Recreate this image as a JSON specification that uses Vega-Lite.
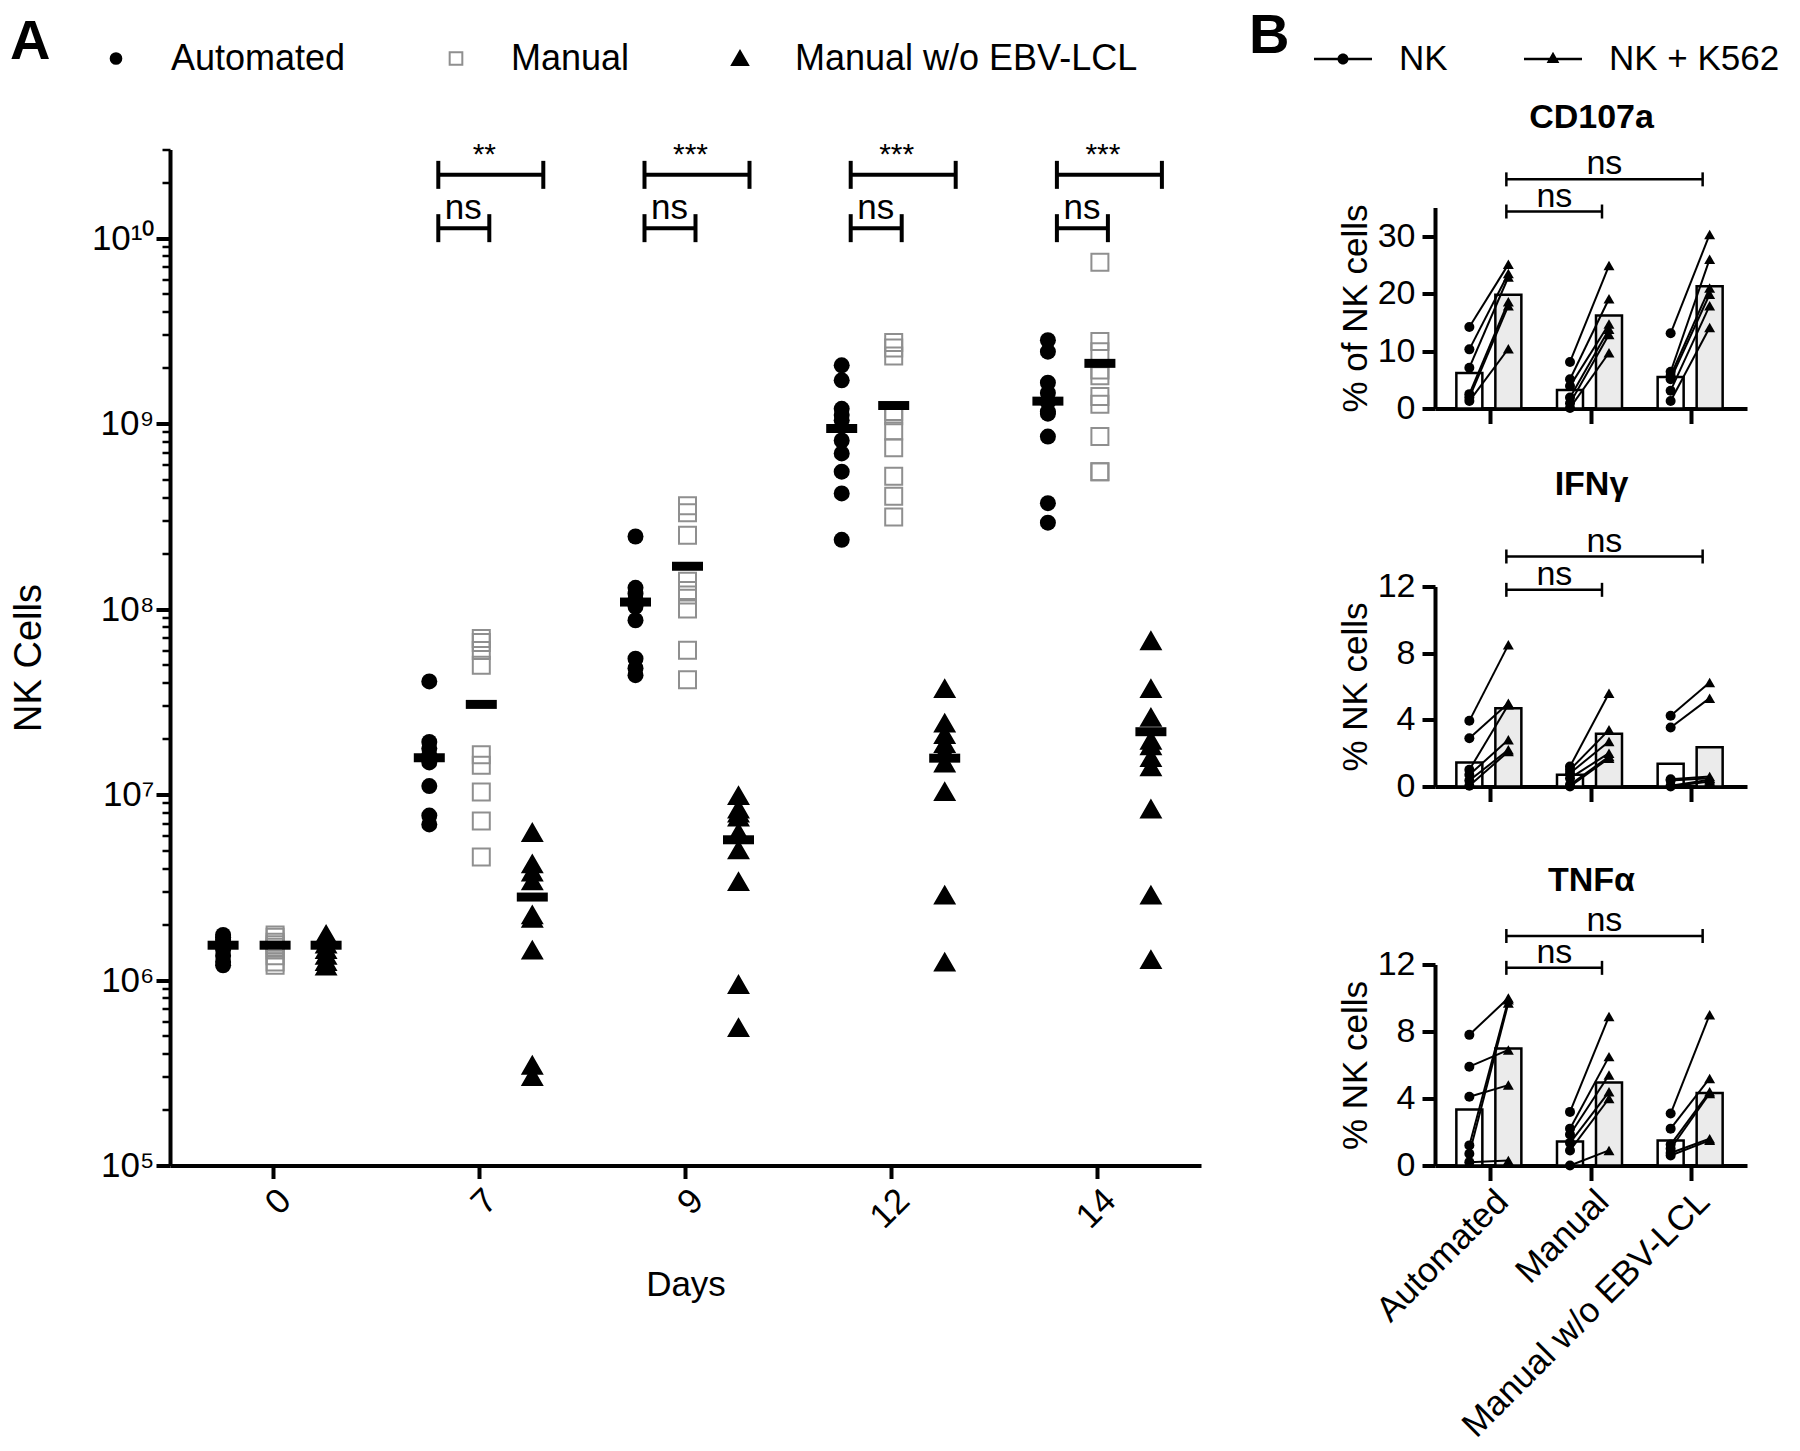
{
"$schema": "https://vega.github.io/schema/vega-lite/v6.json",
"background": "white",
"padding": {"left": 10, "top": 28.5, "right": 2, "bottom": 2},
"config": {
  "font": "Liberation Sans",
  "view": {"stroke": null},
  "axis": {"grid": false, "labelFont": "Liberation Sans", "titleFont": "Liberation Sans", "labelColor": "black", "titleColor": "black", "domainColor": "black", "tickColor": "black", "titleFontWeight": "normal"},
  "legend": {"labelFont": "Liberation Sans", "titleFont": "Liberation Sans", "labelColor": "black", "titleColor": "black"},
  "title": {"font": "Liberation Sans", "color": "black"},
  "text": {"font": "Liberation Sans", "color": "black"}
},
"datasets": {
  "cellsA": [
    {"Day":"0","Method":"Automated","Cells":1.75e6},{"Day":"0","Method":"Automated","Cells":1.7e6},{"Day":"0","Method":"Automated","Cells":1.65e6},{"Day":"0","Method":"Automated","Cells":1.6e6},{"Day":"0","Method":"Automated","Cells":1.55e6},{"Day":"0","Method":"Automated","Cells":1.5e6},{"Day":"0","Method":"Automated","Cells":1.45e6},{"Day":"0","Method":"Automated","Cells":1.35e6},{"Day":"0","Method":"Automated","Cells":1.25e6},{"Day":"0","Method":"Automated","Cells":1.2e6},
    {"Day":"0","Method":"Manual","Cells":1.75e6},{"Day":"0","Method":"Manual","Cells":1.7e6},{"Day":"0","Method":"Manual","Cells":1.6e6},{"Day":"0","Method":"Manual","Cells":1.55e6},{"Day":"0","Method":"Manual","Cells":1.5e6},{"Day":"0","Method":"Manual","Cells":1.45e6},{"Day":"0","Method":"Manual","Cells":1.35e6},{"Day":"0","Method":"Manual","Cells":1.25e6},{"Day":"0","Method":"Manual","Cells":1.2e6},
    {"Day":"0","Method":"Manual w/o EBV-LCL","Cells":1.75e6},{"Day":"0","Method":"Manual w/o EBV-LCL","Cells":1.65e6},{"Day":"0","Method":"Manual w/o EBV-LCL","Cells":1.55e6},{"Day":"0","Method":"Manual w/o EBV-LCL","Cells":1.45e6},{"Day":"0","Method":"Manual w/o EBV-LCL","Cells":1.35e6},{"Day":"0","Method":"Manual w/o EBV-LCL","Cells":1.25e6},{"Day":"0","Method":"Manual w/o EBV-LCL","Cells":1.18e6},
    {"Day":"7","Method":"Automated","Cells":4.07e7},{"Day":"7","Method":"Automated","Cells":1.92e7},{"Day":"7","Method":"Automated","Cells":1.77e7},{"Day":"7","Method":"Automated","Cells":1.62e7},{"Day":"7","Method":"Automated","Cells":1.49e7},{"Day":"7","Method":"Automated","Cells":1.11e7},{"Day":"7","Method":"Automated","Cells":7.7e6},{"Day":"7","Method":"Automated","Cells":6.9e6},
    {"Day":"7","Method":"Manual","Cells":6.94e7},{"Day":"7","Method":"Manual","Cells":6.6e7},{"Day":"7","Method":"Manual","Cells":5.98e7},{"Day":"7","Method":"Manual","Cells":4.97e7},{"Day":"7","Method":"Manual","Cells":1.64e7},{"Day":"7","Method":"Manual","Cells":1.44e7},{"Day":"7","Method":"Manual","Cells":1.03e7},{"Day":"7","Method":"Manual","Cells":7.2e6},{"Day":"7","Method":"Manual","Cells":4.6e6},
    {"Day":"7","Method":"Manual w/o EBV-LCL","Cells":6.2e6},{"Day":"7","Method":"Manual w/o EBV-LCL","Cells":4.2e6},{"Day":"7","Method":"Manual w/o EBV-LCL","Cells":3.8e6},{"Day":"7","Method":"Manual w/o EBV-LCL","Cells":3.4e6},{"Day":"7","Method":"Manual w/o EBV-LCL","Cells":2.23e6},{"Day":"7","Method":"Manual w/o EBV-LCL","Cells":2.14e6},{"Day":"7","Method":"Manual w/o EBV-LCL","Cells":1.44e6},{"Day":"7","Method":"Manual w/o EBV-LCL","Cells":3.45e5},{"Day":"7","Method":"Manual w/o EBV-LCL","Cells":3.0e5},
    {"Day":"9","Method":"Automated","Cells":2.46e8},{"Day":"9","Method":"Automated","Cells":1.3e8},{"Day":"9","Method":"Automated","Cells":1.21e8},{"Day":"9","Method":"Automated","Cells":1.12e8},{"Day":"9","Method":"Automated","Cells":1.03e8},{"Day":"9","Method":"Automated","Cells":8.7e7},{"Day":"9","Method":"Automated","Cells":5.4e7},{"Day":"9","Method":"Automated","Cells":4.8e7},{"Day":"9","Method":"Automated","Cells":4.4e7},
    {"Day":"9","Method":"Manual","Cells":3.6e8},{"Day":"9","Method":"Manual","Cells":3.3e8},{"Day":"9","Method":"Manual","Cells":2.5e8},{"Day":"9","Method":"Manual","Cells":1.41e8},{"Day":"9","Method":"Manual","Cells":1.26e8},{"Day":"9","Method":"Manual","Cells":1.19e8},{"Day":"9","Method":"Manual","Cells":1.0e8},{"Day":"9","Method":"Manual","Cells":6.0e7},{"Day":"9","Method":"Manual","Cells":4.15e7},
    {"Day":"9","Method":"Manual w/o EBV-LCL","Cells":9.8e6},{"Day":"9","Method":"Manual w/o EBV-LCL","Cells":8.3e6},{"Day":"9","Method":"Manual w/o EBV-LCL","Cells":7.9e6},{"Day":"9","Method":"Manual w/o EBV-LCL","Cells":7.5e6},{"Day":"9","Method":"Manual w/o EBV-LCL","Cells":6.2e6},{"Day":"9","Method":"Manual w/o EBV-LCL","Cells":5.0e6},{"Day":"9","Method":"Manual w/o EBV-LCL","Cells":3.37e6},{"Day":"9","Method":"Manual w/o EBV-LCL","Cells":9.4e5},{"Day":"9","Method":"Manual w/o EBV-LCL","Cells":5.5e5},
    {"Day":"12","Method":"Automated","Cells":2.06e9},{"Day":"12","Method":"Automated","Cells":1.71e9},{"Day":"12","Method":"Automated","Cells":1.2e9},{"Day":"12","Method":"Automated","Cells":1.11e9},{"Day":"12","Method":"Automated","Cells":1.04e9},{"Day":"12","Method":"Automated","Cells":8.1e8},{"Day":"12","Method":"Automated","Cells":6.9e8},{"Day":"12","Method":"Automated","Cells":5.5e8},{"Day":"12","Method":"Automated","Cells":4.2e8},{"Day":"12","Method":"Automated","Cells":2.36e8},
    {"Day":"12","Method":"Manual","Cells":2.73e9},{"Day":"12","Method":"Manual","Cells":2.55e9},{"Day":"12","Method":"Manual","Cells":2.31e9},{"Day":"12","Method":"Manual","Cells":1.16e9},{"Day":"12","Method":"Manual","Cells":1.1e9},{"Day":"12","Method":"Manual","Cells":9.1e8},{"Day":"12","Method":"Manual","Cells":7.4e8},{"Day":"12","Method":"Manual","Cells":5.2e8},{"Day":"12","Method":"Manual","Cells":4.05e8},{"Day":"12","Method":"Manual","Cells":3.13e8},
    {"Day":"12","Method":"Manual w/o EBV-LCL","Cells":3.7e7},{"Day":"12","Method":"Manual w/o EBV-LCL","Cells":2.41e7},{"Day":"12","Method":"Manual w/o EBV-LCL","Cells":2.09e7},{"Day":"12","Method":"Manual w/o EBV-LCL","Cells":1.87e7},{"Day":"12","Method":"Manual w/o EBV-LCL","Cells":1.69e7},{"Day":"12","Method":"Manual w/o EBV-LCL","Cells":1.47e7},{"Day":"12","Method":"Manual w/o EBV-LCL","Cells":1.03e7},{"Day":"12","Method":"Manual w/o EBV-LCL","Cells":2.85e6},{"Day":"12","Method":"Manual w/o EBV-LCL","Cells":1.24e6},
    {"Day":"14","Method":"Automated","Cells":2.81e9},{"Day":"14","Method":"Automated","Cells":2.44e9},{"Day":"14","Method":"Automated","Cells":1.66e9},{"Day":"14","Method":"Automated","Cells":1.46e9},{"Day":"14","Method":"Automated","Cells":1.3e9},{"Day":"14","Method":"Automated","Cells":1.16e9},{"Day":"14","Method":"Automated","Cells":1.13e9},{"Day":"14","Method":"Automated","Cells":8.5e8},{"Day":"14","Method":"Automated","Cells":3.72e8},{"Day":"14","Method":"Automated","Cells":2.92e8},
    {"Day":"14","Method":"Manual","Cells":7.4e9},{"Day":"14","Method":"Manual","Cells":2.77e9},{"Day":"14","Method":"Manual","Cells":2.44e9},{"Day":"14","Method":"Manual","Cells":1.94e9},{"Day":"14","Method":"Manual","Cells":1.81e9},{"Day":"14","Method":"Manual","Cells":1.4e9},{"Day":"14","Method":"Manual","Cells":1.27e9},{"Day":"14","Method":"Manual","Cells":8.5e8},{"Day":"14","Method":"Manual","Cells":5.5e8},{"Day":"14","Method":"Manual","Cells":5.5e8},
    {"Day":"14","Method":"Manual w/o EBV-LCL","Cells":6.7e7},{"Day":"14","Method":"Manual w/o EBV-LCL","Cells":3.7e7},{"Day":"14","Method":"Manual w/o EBV-LCL","Cells":2.59e7},{"Day":"14","Method":"Manual w/o EBV-LCL","Cells":1.95e7},{"Day":"14","Method":"Manual w/o EBV-LCL","Cells":1.82e7},{"Day":"14","Method":"Manual w/o EBV-LCL","Cells":1.57e7},{"Day":"14","Method":"Manual w/o EBV-LCL","Cells":1.4e7},{"Day":"14","Method":"Manual w/o EBV-LCL","Cells":8.3e6},{"Day":"14","Method":"Manual w/o EBV-LCL","Cells":2.85e6},{"Day":"14","Method":"Manual w/o EBV-LCL","Cells":1.28e6}
  ],
  "meansA": [
    {"Day":"0","Method":"Automated","Mean":1.54e6},{"Day":"0","Method":"Manual","Mean":1.54e6},{"Day":"0","Method":"Manual w/o EBV-LCL","Mean":1.54e6},
    {"Day":"7","Method":"Automated","Mean":1.58e7},{"Day":"7","Method":"Manual","Mean":3.06e7},{"Day":"7","Method":"Manual w/o EBV-LCL","Mean":2.8e6},
    {"Day":"9","Method":"Automated","Mean":1.09e8},{"Day":"9","Method":"Manual","Mean":1.7e8},{"Day":"9","Method":"Manual w/o EBV-LCL","Mean":5.7e6},
    {"Day":"12","Method":"Automated","Mean":9.4e8},{"Day":"12","Method":"Manual","Mean":1.25e9},{"Day":"12","Method":"Manual w/o EBV-LCL","Mean":1.57e7},
    {"Day":"14","Method":"Automated","Mean":1.32e9},{"Day":"14","Method":"Manual","Mean":2.11e9},{"Day":"14","Method":"Manual w/o EBV-LCL","Mean":2.18e7}
  ],
  "bracketsA": [
    {"Day":"7","kind":"upper","level":2.19e10,"label":"**"},{"Day":"7","kind":"lower","level":1.13e10,"label":"ns"},
    {"Day":"9","kind":"upper","level":2.19e10,"label":"***"},{"Day":"9","kind":"lower","level":1.13e10,"label":"ns"},
    {"Day":"12","kind":"upper","level":2.19e10,"label":"***"},{"Day":"12","kind":"lower","level":1.13e10,"label":"ns"},
    {"Day":"14","kind":"upper","level":2.19e10,"label":"***"},{"Day":"14","kind":"lower","level":1.13e10,"label":"ns"}
  ],
  "pointsB": [
    {"panel":"CD107a","group":"Automated","donor":1,"cond":"NK","value":14.2},{"panel":"CD107a","group":"Automated","donor":2,"cond":"NK","value":10.3},{"panel":"CD107a","group":"Automated","donor":3,"cond":"NK","value":7.1},{"panel":"CD107a","group":"Automated","donor":4,"cond":"NK","value":2.5},{"panel":"CD107a","group":"Automated","donor":5,"cond":"NK","value":1.9},{"panel":"CD107a","group":"Automated","donor":6,"cond":"NK","value":1.3},
    {"panel":"CD107a","group":"Automated","donor":1,"cond":"NK + K562","value":25.1},{"panel":"CD107a","group":"Automated","donor":2,"cond":"NK + K562","value":23.5},{"panel":"CD107a","group":"Automated","donor":3,"cond":"NK + K562","value":22.9},{"panel":"CD107a","group":"Automated","donor":4,"cond":"NK + K562","value":18.6},{"panel":"CD107a","group":"Automated","donor":5,"cond":"NK + K562","value":17.9},{"panel":"CD107a","group":"Automated","donor":6,"cond":"NK + K562","value":10.4},
    {"panel":"CD107a","group":"Manual","donor":1,"cond":"NK","value":8.1},{"panel":"CD107a","group":"Manual","donor":2,"cond":"NK","value":5.1},{"panel":"CD107a","group":"Manual","donor":3,"cond":"NK","value":3.9},{"panel":"CD107a","group":"Manual","donor":4,"cond":"NK","value":1.9},{"panel":"CD107a","group":"Manual","donor":5,"cond":"NK","value":0.9},{"panel":"CD107a","group":"Manual","donor":6,"cond":"NK","value":0.1},
    {"panel":"CD107a","group":"Manual","donor":1,"cond":"NK + K562","value":24.9},{"panel":"CD107a","group":"Manual","donor":2,"cond":"NK + K562","value":19.1},{"panel":"CD107a","group":"Manual","donor":3,"cond":"NK + K562","value":14.7},{"panel":"CD107a","group":"Manual","donor":4,"cond":"NK + K562","value":13.8},{"panel":"CD107a","group":"Manual","donor":5,"cond":"NK + K562","value":12.9},{"panel":"CD107a","group":"Manual","donor":6,"cond":"NK + K562","value":9.7},
    {"panel":"CD107a","group":"Manual w/o EBV-LCL","donor":1,"cond":"NK","value":13.1},{"panel":"CD107a","group":"Manual w/o EBV-LCL","donor":2,"cond":"NK","value":6.4},{"panel":"CD107a","group":"Manual w/o EBV-LCL","donor":3,"cond":"NK","value":5.7},{"panel":"CD107a","group":"Manual w/o EBV-LCL","donor":4,"cond":"NK","value":5.1},{"panel":"CD107a","group":"Manual w/o EBV-LCL","donor":5,"cond":"NK","value":3.1},{"panel":"CD107a","group":"Manual w/o EBV-LCL","donor":6,"cond":"NK","value":1.3},
    {"panel":"CD107a","group":"Manual w/o EBV-LCL","donor":1,"cond":"NK + K562","value":30.3},{"panel":"CD107a","group":"Manual w/o EBV-LCL","donor":2,"cond":"NK + K562","value":26.0},{"panel":"CD107a","group":"Manual w/o EBV-LCL","donor":3,"cond":"NK + K562","value":21.0},{"panel":"CD107a","group":"Manual w/o EBV-LCL","donor":4,"cond":"NK + K562","value":19.9},{"panel":"CD107a","group":"Manual w/o EBV-LCL","donor":5,"cond":"NK + K562","value":17.9},{"panel":"CD107a","group":"Manual w/o EBV-LCL","donor":6,"cond":"NK + K562","value":14.1},
    {"panel":"IFNγ","group":"Automated","donor":1,"cond":"NK","value":3.94},{"panel":"IFNγ","group":"Automated","donor":2,"cond":"NK","value":2.9},{"panel":"IFNγ","group":"Automated","donor":3,"cond":"NK","value":1.0},{"panel":"IFNγ","group":"Automated","donor":4,"cond":"NK","value":0.7},{"panel":"IFNγ","group":"Automated","donor":5,"cond":"NK","value":0.36},{"panel":"IFNγ","group":"Automated","donor":6,"cond":"NK","value":0.04},
    {"panel":"IFNγ","group":"Automated","donor":1,"cond":"NK + K562","value":8.5},{"panel":"IFNγ","group":"Automated","donor":2,"cond":"NK + K562","value":5.0},{"panel":"IFNγ","group":"Automated","donor":3,"cond":"NK + K562","value":4.9},{"panel":"IFNγ","group":"Automated","donor":4,"cond":"NK + K562","value":2.8},{"panel":"IFNγ","group":"Automated","donor":5,"cond":"NK + K562","value":2.2},{"panel":"IFNγ","group":"Automated","donor":6,"cond":"NK + K562","value":2.1},
    {"panel":"IFNγ","group":"Manual","donor":1,"cond":"NK","value":1.2},{"panel":"IFNγ","group":"Manual","donor":2,"cond":"NK","value":1.0},{"panel":"IFNγ","group":"Manual","donor":3,"cond":"NK","value":0.8},{"panel":"IFNγ","group":"Manual","donor":4,"cond":"NK","value":0.5},{"panel":"IFNγ","group":"Manual","donor":5,"cond":"NK","value":0.1},{"panel":"IFNγ","group":"Manual","donor":6,"cond":"NK","value":0.0},
    {"panel":"IFNγ","group":"Manual","donor":1,"cond":"NK + K562","value":5.6},{"panel":"IFNγ","group":"Manual","donor":2,"cond":"NK + K562","value":3.4},{"panel":"IFNγ","group":"Manual","donor":3,"cond":"NK + K562","value":2.7},{"panel":"IFNγ","group":"Manual","donor":4,"cond":"NK + K562","value":2.0},{"panel":"IFNγ","group":"Manual","donor":5,"cond":"NK + K562","value":1.8},{"panel":"IFNγ","group":"Manual","donor":6,"cond":"NK + K562","value":1.7},
    {"panel":"IFNγ","group":"Manual w/o EBV-LCL","donor":1,"cond":"NK","value":4.24},{"panel":"IFNγ","group":"Manual w/o EBV-LCL","donor":2,"cond":"NK","value":3.54},{"panel":"IFNγ","group":"Manual w/o EBV-LCL","donor":3,"cond":"NK","value":0.44},{"panel":"IFNγ","group":"Manual w/o EBV-LCL","donor":4,"cond":"NK","value":0.36},{"panel":"IFNγ","group":"Manual w/o EBV-LCL","donor":5,"cond":"NK","value":0.04},{"panel":"IFNγ","group":"Manual w/o EBV-LCL","donor":6,"cond":"NK","value":0.0},
    {"panel":"IFNγ","group":"Manual w/o EBV-LCL","donor":1,"cond":"NK + K562","value":6.24},{"panel":"IFNγ","group":"Manual w/o EBV-LCL","donor":2,"cond":"NK + K562","value":5.3},{"panel":"IFNγ","group":"Manual w/o EBV-LCL","donor":3,"cond":"NK + K562","value":0.6},{"panel":"IFNγ","group":"Manual w/o EBV-LCL","donor":4,"cond":"NK + K562","value":0.5},{"panel":"IFNγ","group":"Manual w/o EBV-LCL","donor":5,"cond":"NK + K562","value":0.4},{"panel":"IFNγ","group":"Manual w/o EBV-LCL","donor":6,"cond":"NK + K562","value":0.3},
    {"panel":"TNFα","group":"Automated","donor":1,"cond":"NK","value":7.8},{"panel":"TNFα","group":"Automated","donor":2,"cond":"NK","value":5.9},{"panel":"TNFα","group":"Automated","donor":3,"cond":"NK","value":4.1},{"panel":"TNFα","group":"Automated","donor":4,"cond":"NK","value":1.2},{"panel":"TNFα","group":"Automated","donor":5,"cond":"NK","value":0.7},{"panel":"TNFα","group":"Automated","donor":6,"cond":"NK","value":0.2},
    {"panel":"TNFα","group":"Automated","donor":1,"cond":"NK + K562","value":10.0},{"panel":"TNFα","group":"Automated","donor":2,"cond":"NK + K562","value":6.9},{"panel":"TNFα","group":"Automated","donor":3,"cond":"NK + K562","value":4.8},{"panel":"TNFα","group":"Automated","donor":4,"cond":"NK + K562","value":9.9},{"panel":"TNFα","group":"Automated","donor":5,"cond":"NK + K562","value":9.7},{"panel":"TNFα","group":"Automated","donor":6,"cond":"NK + K562","value":0.3},
    {"panel":"TNFα","group":"Manual","donor":1,"cond":"NK","value":3.2},{"panel":"TNFα","group":"Manual","donor":2,"cond":"NK","value":2.2},{"panel":"TNFα","group":"Manual","donor":3,"cond":"NK","value":1.85},{"panel":"TNFα","group":"Manual","donor":4,"cond":"NK","value":1.35},{"panel":"TNFα","group":"Manual","donor":5,"cond":"NK","value":0.9},{"panel":"TNFα","group":"Manual","donor":6,"cond":"NK","value":0.0},
    {"panel":"TNFα","group":"Manual","donor":1,"cond":"NK + K562","value":8.9},{"panel":"TNFα","group":"Manual","donor":2,"cond":"NK + K562","value":6.5},{"panel":"TNFα","group":"Manual","donor":3,"cond":"NK + K562","value":5.4},{"panel":"TNFα","group":"Manual","donor":4,"cond":"NK + K562","value":4.4},{"panel":"TNFα","group":"Manual","donor":5,"cond":"NK + K562","value":4.0},{"panel":"TNFα","group":"Manual","donor":6,"cond":"NK + K562","value":0.9},
    {"panel":"TNFα","group":"Manual w/o EBV-LCL","donor":1,"cond":"NK","value":3.1},{"panel":"TNFα","group":"Manual w/o EBV-LCL","donor":2,"cond":"NK","value":2.2},{"panel":"TNFα","group":"Manual w/o EBV-LCL","donor":3,"cond":"NK","value":1.25},{"panel":"TNFα","group":"Manual w/o EBV-LCL","donor":4,"cond":"NK","value":1.0},{"panel":"TNFα","group":"Manual w/o EBV-LCL","donor":5,"cond":"NK","value":0.75},{"panel":"TNFα","group":"Manual w/o EBV-LCL","donor":6,"cond":"NK","value":0.6},
    {"panel":"TNFα","group":"Manual w/o EBV-LCL","donor":1,"cond":"NK + K562","value":9.0},{"panel":"TNFα","group":"Manual w/o EBV-LCL","donor":2,"cond":"NK + K562","value":5.2},{"panel":"TNFα","group":"Manual w/o EBV-LCL","donor":3,"cond":"NK + K562","value":4.4},{"panel":"TNFα","group":"Manual w/o EBV-LCL","donor":4,"cond":"NK + K562","value":4.3},{"panel":"TNFα","group":"Manual w/o EBV-LCL","donor":5,"cond":"NK + K562","value":1.6},{"panel":"TNFα","group":"Manual w/o EBV-LCL","donor":6,"cond":"NK + K562","value":1.5}
  ],
  "barsB": [
    {"panel":"CD107a","group":"Automated","cond":"NK","mean":6.2},{"panel":"CD107a","group":"Automated","cond":"NK + K562","mean":19.8},
    {"panel":"CD107a","group":"Manual","cond":"NK","mean":3.2},{"panel":"CD107a","group":"Manual","cond":"NK + K562","mean":16.2},
    {"panel":"CD107a","group":"Manual w/o EBV-LCL","cond":"NK","mean":5.5},{"panel":"CD107a","group":"Manual w/o EBV-LCL","cond":"NK + K562","mean":21.3},
    {"panel":"IFNγ","group":"Automated","cond":"NK","mean":1.44},{"panel":"IFNγ","group":"Automated","cond":"NK + K562","mean":4.7},
    {"panel":"IFNγ","group":"Manual","cond":"NK","mean":0.7},{"panel":"IFNγ","group":"Manual","cond":"NK + K562","mean":3.16},
    {"panel":"IFNγ","group":"Manual w/o EBV-LCL","cond":"NK","mean":1.36},{"panel":"IFNγ","group":"Manual w/o EBV-LCL","cond":"NK + K562","mean":2.36},
    {"panel":"TNFα","group":"Automated","cond":"NK","mean":3.34},{"panel":"TNFα","group":"Automated","cond":"NK + K562","mean":6.98},
    {"panel":"TNFα","group":"Manual","cond":"NK","mean":1.44},{"panel":"TNFα","group":"Manual","cond":"NK + K562","mean":4.95},
    {"panel":"TNFα","group":"Manual w/o EBV-LCL","cond":"NK","mean":1.49},{"panel":"TNFα","group":"Manual w/o EBV-LCL","cond":"NK + K562","mean":4.33}
  ],
  "bracketsB": [
    {"panel":"CD107a","kind":"lower","from":"Automated","to":"Manual","level":34.3,"label":"ns"},
    {"panel":"CD107a","kind":"upper","from":"Automated","to":"Manual w/o EBV-LCL","level":39.9,"label":"ns"},
    {"panel":"IFNγ","kind":"lower","from":"Automated","to":"Manual","level":11.8,"label":"ns"},
    {"panel":"IFNγ","kind":"upper","from":"Automated","to":"Manual w/o EBV-LCL","level":13.8,"label":"ns"},
    {"panel":"TNFα","kind":"lower","from":"Automated","to":"Manual","level":11.8,"label":"ns"},
    {"panel":"TNFα","kind":"upper","from":"Automated","to":"Manual w/o EBV-LCL","level":13.7,"label":"ns"}
  ]
},
"spacing": 48,
"resolve": {
  "scale": {"shape": "independent", "fill": "independent", "stroke": "independent", "strokeWidth": "independent"},
  "legend": {"shape": "independent", "fill": "independent", "stroke": "independent", "strokeWidth": "independent"}
},
"hconcat": [
{
  "width": 1031,
  "height": 1016,
  "resolve": {"axis": {"y": "independent"}},
  "layer": [
    {
      "data": {"name": "cellsA"}, "transform": [{"filter": "datum.Method === 'Automated'"}],
      "mark": {"type": "point", "opacity": 1, "size": 256, "xOffset": -50},
      "encoding": {
        "x": {"field": "Day", "type": "nominal", "sort": ["0","7","9","12","14"], "scale": {"domain": ["0","7","9","12","14"], "paddingInner": 0, "paddingOuter": 0},
              "axis": {"title": "Days", "titleFontSize": 35, "titlePadding": 33, "labelAngle": -45, "labelFontSize": 35, "labelPadding": 4, "tickSize": 13, "tickWidth": 4, "domainWidth": 4}},
        "y": {"field": "Cells", "type": "quantitative", "scale": {"type": "log", "domain": [100000, 30000000000], "nice": false},
              "axis": {"orient": "left", "values": [1e5,1e6,1e7,1e8,1e9,1e10], "labelExpr": "datum.value > 5e9 ? '10¹⁰' : datum.value > 5e8 ? '10⁹' : datum.value > 5e7 ? '10⁸' : datum.value > 5e6 ? '10⁷' : datum.value > 5e5 ? '10⁶' : '10⁵'",
                       "labelFontSize": 35, "labelPadding": 2, "tickSize": 14, "tickWidth": 4, "domainWidth": 4, "title": "NK Cells", "titleFontSize": 38, "titlePadding": 43}},
        "shape": {"field": "Method", "type": "nominal", "scale": {"domain": ["Automated","Manual","Manual w/o EBV-LCL"], "range": ["circle","square","triangle-up"]},
                  "legend": {"orient": "none", "legendX": -160, "legendY": -109, "direction": "horizontal", "title": "A", "titleOrient": "left", "titleFontSize": 56, "titleFontWeight": "bold", "titleBaseline": "alphabetic", "titlePadding": 47, "labelFontSize": 36, "labelOffset": 37, "columnPadding": 92, "labelLimit": 600, "symbolSize": 160}},
        "fill": {"field": "Method", "type": "nominal", "scale": {"domain": ["Automated","Manual","Manual w/o EBV-LCL"], "range": ["black","transparent","black"]}},
        "stroke": {"field": "Method", "type": "nominal", "scale": {"domain": ["Automated","Manual","Manual w/o EBV-LCL"], "range": ["black","#8f8f8f","black"]}},
        "strokeWidth": {"field": "Method", "type": "nominal", "scale": {"domain": ["Automated","Manual","Manual w/o EBV-LCL"], "range": [0, 4, 0]}}
      }
    },
    {
      "data": {"name": "cellsA"}, "transform": [{"filter": "datum.Method === 'Manual'"}],
      "mark": {"type": "point", "opacity": 1, "size": 289, "xOffset": 2},
      "encoding": {
        "x": {"field": "Day", "type": "nominal", "sort": ["0","7","9","12","14"]},
        "y": {"field": "Cells", "type": "quantitative", "axis": null},
        "shape": {"field": "Method", "type": "nominal", "scale": {"domain": ["Automated","Manual","Manual w/o EBV-LCL"], "range": ["circle","square","triangle-up"]}},
        "fill": {"field": "Method", "type": "nominal", "scale": {"domain": ["Automated","Manual","Manual w/o EBV-LCL"], "range": ["black","transparent","black"]}},
        "stroke": {"field": "Method", "type": "nominal", "scale": {"domain": ["Automated","Manual","Manual w/o EBV-LCL"], "range": ["black","#8f8f8f","black"]}},
        "strokeWidth": {"field": "Method", "type": "nominal", "scale": {"domain": ["Automated","Manual","Manual w/o EBV-LCL"], "range": [0, 4, 0]}}
      }
    },
    {
      "data": {"name": "cellsA"}, "transform": [{"filter": "datum.Method === 'Manual w/o EBV-LCL'"}],
      "mark": {"type": "point", "opacity": 1, "size": 256, "xOffset": 53},
      "encoding": {
        "x": {"field": "Day", "type": "nominal", "sort": ["0","7","9","12","14"]},
        "y": {"field": "Cells", "type": "quantitative", "axis": null},
        "shape": {"field": "Method", "type": "nominal", "scale": {"domain": ["Automated","Manual","Manual w/o EBV-LCL"], "range": ["circle","square","triangle-up"]}},
        "fill": {"field": "Method", "type": "nominal", "scale": {"domain": ["Automated","Manual","Manual w/o EBV-LCL"], "range": ["black","transparent","black"]}},
        "stroke": {"field": "Method", "type": "nominal", "scale": {"domain": ["Automated","Manual","Manual w/o EBV-LCL"], "range": ["black","#8f8f8f","black"]}},
        "strokeWidth": {"field": "Method", "type": "nominal", "scale": {"domain": ["Automated","Manual","Manual w/o EBV-LCL"], "range": [0, 4, 0]}}
      }
    },
    {
      "data": {"name": "meansA"}, "transform": [{"filter": "datum.Method === 'Automated'"}],
      "mark": {"type": "tick", "orient": "horizontal", "thickness": 9, "size": 31, "color": "black", "opacity": 1, "xOffset": -50},
      "encoding": {
        "x": {"field": "Day", "type": "nominal", "sort": ["0","7","9","12","14"]},
        "y": {"field": "Mean", "type": "quantitative",
              "axis": {"orient": "left", "values": [2e5,3e5,4e5,5e5,6e5,7e5,8e5,9e5,2e6,3e6,4e6,5e6,6e6,7e6,8e6,9e6,2e7,3e7,4e7,5e7,6e7,7e7,8e7,9e7,2e8,3e8,4e8,5e8,6e8,7e8,8e8,9e8,2e9,3e9,4e9,5e9,6e9,7e9,8e9,9e9,2e10,3e10],
                       "labels": false, "domain": false, "tickSize": 8, "tickWidth": 2.5, "title": null}}
      }
    },
    {
      "data": {"name": "meansA"}, "transform": [{"filter": "datum.Method === 'Manual'"}],
      "mark": {"type": "tick", "orient": "horizontal", "thickness": 9, "size": 31, "color": "black", "opacity": 1, "xOffset": 2},
      "encoding": {
        "x": {"field": "Day", "type": "nominal", "sort": ["0","7","9","12","14"]},
        "y": {"field": "Mean", "type": "quantitative", "axis": null}
      }
    },
    {
      "data": {"name": "meansA"}, "transform": [{"filter": "datum.Method === 'Manual w/o EBV-LCL'"}],
      "mark": {"type": "tick", "orient": "horizontal", "thickness": 9, "size": 31, "color": "black", "opacity": 1, "xOffset": 53},
      "encoding": {
        "x": {"field": "Day", "type": "nominal", "sort": ["0","7","9","12","14"]},
        "y": {"field": "Mean", "type": "quantitative", "axis": null}
      }
    },
    {
      "data": {"name": "bracketsA"}, "transform": [{"filter": "datum.kind === 'upper'"}],
      "mark": {"type": "tick", "orient": "horizontal", "thickness": 4, "size": 105, "color": "black", "opacity": 1, "xOffset": 11.5},
      "encoding": {
        "x": {"field": "Day", "type": "nominal", "sort": ["0","7","9","12","14"]},
        "y": {"field": "level", "type": "quantitative", "axis": null}
      }
    },
    {
      "data": {"name": "bracketsA"}, "transform": [{"filter": "datum.kind === 'lower'"}],
      "mark": {"type": "tick", "orient": "horizontal", "thickness": 4, "size": 51, "color": "black", "opacity": 1, "xOffset": -15.5},
      "encoding": {
        "x": {"field": "Day", "type": "nominal", "sort": ["0","7","9","12","14"]},
        "y": {"field": "level", "type": "quantitative", "axis": null}
      }
    },
    {
      "data": {"name": "bracketsA"},
      "mark": {"type": "tick", "orient": "vertical", "thickness": 4, "size": 28, "color": "black", "opacity": 1, "xOffset": -41},
      "encoding": {
        "x": {"field": "Day", "type": "nominal", "sort": ["0","7","9","12","14"]},
        "y": {"field": "level", "type": "quantitative", "axis": null}
      }
    },
    {
      "data": {"name": "bracketsA"}, "transform": [{"filter": "datum.kind === 'upper'"}],
      "mark": {"type": "tick", "orient": "vertical", "thickness": 4, "size": 28, "color": "black", "opacity": 1, "xOffset": 64},
      "encoding": {
        "x": {"field": "Day", "type": "nominal", "sort": ["0","7","9","12","14"]},
        "y": {"field": "level", "type": "quantitative", "axis": null}
      }
    },
    {
      "data": {"name": "bracketsA"}, "transform": [{"filter": "datum.kind === 'lower'"}],
      "mark": {"type": "tick", "orient": "vertical", "thickness": 4, "size": 28, "color": "black", "opacity": 1, "xOffset": 10},
      "encoding": {
        "x": {"field": "Day", "type": "nominal", "sort": ["0","7","9","12","14"]},
        "y": {"field": "level", "type": "quantitative", "axis": null}
      }
    },
    {
      "data": {"name": "bracketsA"}, "transform": [{"filter": "datum.kind === 'upper'"}],
      "mark": {"type": "text", "fontSize": 30, "dy": -11, "dx": 5, "baseline": "alphabetic", "align": "center"},
      "encoding": {
        "x": {"field": "Day", "type": "nominal", "sort": ["0","7","9","12","14"]},
        "y": {"field": "level", "type": "quantitative", "axis": null},
        "text": {"field": "label"}
      }
    },
    {
      "data": {"name": "bracketsA"}, "transform": [{"filter": "datum.kind === 'lower'"}],
      "mark": {"type": "text", "fontSize": 35, "dy": -9, "dx": -16, "baseline": "alphabetic", "align": "center"},
      "encoding": {
        "x": {"field": "Day", "type": "nominal", "sort": ["0","7","9","12","14"]},
        "y": {"field": "level", "type": "quantitative", "axis": null},
        "text": {"field": "label"}
      }
    }
  ]
},
{
  "spacing": 178,
  "bounds": "flush",
  "resolve": {"scale": {"shape": "independent"}, "legend": {"shape": "independent"}},
  "vconcat": [
    {
      "width": 312, "height": 259,
      "resolve": {"axis": {"x": "independent"}, "scale": {"shape": "independent"}, "legend": {"shape": "independent"}},
      "layer": [
        {
          "data": {"name": "barsB"}, "transform": [{"filter": "datum.panel === 'CD107a' && datum.cond === 'NK'"}],
          "mark": {"type": "bar", "width": 26, "xOffset": -21, "fill": "white", "stroke": "black", "strokeWidth": 2.5},
          "encoding": {
            "x": {"field": "group", "type": "nominal", "sort": ["Automated","Manual","Manual w/o EBV-LCL"], "scale": {"domain": ["Automated","Manual","Manual w/o EBV-LCL"], "paddingInner": 0, "paddingOuter": 0.05},
                  "axis": {"orient": "bottom", "labels": false, "title": null, "tickSize": 15, "tickWidth": 4, "domainWidth": 4}},
            "y": {"field": "mean", "type": "quantitative", "scale": {"domain": [0, 35], "nice": false, "range": [259, 58]},
                  "axis": {"values": [0,10,20,30], "title": "% of NK cells", "titleFontSize": 35, "titlePadding": 4, "labelFontSize": 34, "labelPadding": 7, "tickSize": 13, "tickWidth": 4, "domainWidth": 4}}
          }
        },
        {
          "data": {"name": "barsB"}, "transform": [{"filter": "datum.panel === 'CD107a' && datum.cond === 'NK + K562'"}],
          "mark": {"type": "bar", "width": 26, "xOffset": 18, "fill": "#ebebeb", "stroke": "black", "strokeWidth": 2.5},
          "encoding": {
            "x": {"field": "group", "type": "nominal", "sort": ["Automated","Manual","Manual w/o EBV-LCL"],
                  "axis": {"orient": "top", "labels": false, "ticks": false, "domain": false, "title": "CD107a", "titleFontSize": 34, "titleFontWeight": "bold", "titleBaseline": "alphabetic", "titleX": 156, "titleY": -22}},
            "y": {"field": "mean", "type": "quantitative"}
          }
        },
        {
          "data": {"name": "pointsB"}, "transform": [{"filter": "datum.panel === 'CD107a'"}, {"pivot": "cond", "value": "value", "groupby": ["panel","group","donor"]}],
          "mark": {"type": "rule", "xOffset": -21, "x2Offset": 18, "color": "black", "strokeWidth": 2},
          "encoding": {
            "x": {"field": "group", "type": "nominal", "sort": ["Automated","Manual","Manual w/o EBV-LCL"], "axis": null},
            "x2": {"field": "group"},
            "y": {"field": "NK", "type": "quantitative"},
            "y2": {"field": "NK + K562"}
          }
        },
        {
          "data": {"name": "pointsB"}, "transform": [{"filter": "datum.panel === 'CD107a' && datum.cond === 'NK'"}],
          "mark": {"type": "point", "filled": true, "opacity": 1, "color": "black", "size": 100, "xOffset": -21},
          "encoding": {
            "x": {"field": "group", "type": "nominal", "sort": ["Automated","Manual","Manual w/o EBV-LCL"], "axis": null},
            "y": {"field": "value", "type": "quantitative"},
            "shape": {"field": "cond", "type": "nominal", "scale": {"domain": ["NK","NK + K562"], "range": ["circle","triangle-up"]}, "legend": null}
          }
        },
        {
          "data": {"name": "pointsB"}, "transform": [{"filter": "datum.panel === 'CD107a' && datum.cond === 'NK + K562'"}],
          "mark": {"type": "point", "filled": true, "opacity": 1, "color": "black", "size": 120, "xOffset": 18},
          "encoding": {
            "x": {"field": "group", "type": "nominal", "sort": ["Automated","Manual","Manual w/o EBV-LCL"], "axis": null},
            "y": {"field": "value", "type": "quantitative"},
            "shape": {"field": "cond", "type": "nominal", "scale": {"domain": ["NK","NK + K562"], "range": ["circle","triangle-up"]}, "legend": null}
          }
        },
        {
          "data": {"name": "barsB"}, "transform": [{"filter": "false"}],
          "mark": {"type": "point", "filled": true, "color": "black", "opacity": 1},
          "encoding": {
            "shape": {"field": "cond", "type": "nominal",
                      "scale": {"domain": ["NK","NK + K562"], "range": ["M-1,-0.045H1V0.045H-1ZM0.19,0A0.19,0.19,0,1,1,-0.19,0A0.19,0.19,0,1,1,0.19,0Z", "M-1,-0.045H1V0.045H-1ZM0,-0.25L0.22,0.14L-0.22,0.14Z"]},
                      "legend": {"orient": "none", "legendX": -186, "legendY": -120.5, "direction": "horizontal", "title": "B", "titleOrient": "left", "titleFontSize": 56, "titleFontWeight": "bold", "titleBaseline": "alphabetic", "titlePadding": 23, "labelFontSize": 35, "labelOffset": 26, "columnPadding": 73, "symbolSize": 3364, "symbolFillColor": "black", "labelLimit": 400}}
          }
        },
        {
          "data": {"name": "bracketsB"}, "transform": [{"filter": "datum.panel === 'CD107a' && datum.kind === 'lower'"}],
          "mark": {"type": "tick", "orient": "horizontal", "size": 96, "thickness": 2.5, "color": "black", "opacity": 1, "xOffset": 64},
          "encoding": {"x": {"field": "from", "type": "nominal", "sort": ["Automated","Manual","Manual w/o EBV-LCL"], "axis": null}, "y": {"field": "level", "type": "quantitative"}}
        },
        {
          "data": {"name": "bracketsB"}, "transform": [{"filter": "datum.panel === 'CD107a' && datum.kind === 'upper'"}],
          "mark": {"type": "tick", "orient": "horizontal", "size": 196, "thickness": 2.5, "color": "black", "opacity": 1, "xOffset": 114},
          "encoding": {"x": {"field": "from", "type": "nominal", "sort": ["Automated","Manual","Manual w/o EBV-LCL"], "axis": null}, "y": {"field": "level", "type": "quantitative"}}
        },
        {
          "data": {"name": "bracketsB"}, "transform": [{"filter": "datum.panel === 'CD107a'"}],
          "mark": {"type": "tick", "orient": "vertical", "size": 14, "thickness": 2.5, "color": "black", "opacity": 1, "xOffset": 16},
          "encoding": {"x": {"field": "from", "type": "nominal", "sort": ["Automated","Manual","Manual w/o EBV-LCL"], "axis": null}, "y": {"field": "level", "type": "quantitative"}}
        },
        {
          "data": {"name": "bracketsB"}, "transform": [{"filter": "datum.panel === 'CD107a'"}],
          "mark": {"type": "tick", "orient": "vertical", "size": 14, "thickness": 2.5, "color": "black", "opacity": 1, "xOffset": 11},
          "encoding": {"x": {"field": "to", "type": "nominal", "sort": ["Automated","Manual","Manual w/o EBV-LCL"], "axis": null}, "y": {"field": "level", "type": "quantitative"}}
        },
        {
          "data": {"name": "bracketsB"}, "transform": [{"filter": "datum.panel === 'CD107a' && datum.kind === 'lower'"}],
          "mark": {"type": "text", "fontSize": 34, "dx": 64, "dy": -5, "baseline": "alphabetic", "align": "center"},
          "encoding": {"x": {"field": "from", "type": "nominal", "sort": ["Automated","Manual","Manual w/o EBV-LCL"], "axis": null}, "y": {"field": "level", "type": "quantitative"}, "text": {"field": "label"}}
        },
        {
          "data": {"name": "bracketsB"}, "transform": [{"filter": "datum.panel === 'CD107a' && datum.kind === 'upper'"}],
          "mark": {"type": "text", "fontSize": 34, "dx": 114, "dy": -5, "baseline": "alphabetic", "align": "center"},
          "encoding": {"x": {"field": "from", "type": "nominal", "sort": ["Automated","Manual","Manual w/o EBV-LCL"], "axis": null}, "y": {"field": "level", "type": "quantitative"}, "text": {"field": "label"}}
        }
      ]
    },
    {
      "width": 312, "height": 200,
      "resolve": {"axis": {"x": "independent"}},
      "layer": [
        {
          "data": {"name": "barsB"}, "transform": [{"filter": "datum.panel === 'IFNγ' && datum.cond === 'NK'"}],
          "mark": {"type": "bar", "width": 26, "xOffset": -21, "fill": "white", "stroke": "black", "strokeWidth": 2.5},
          "encoding": {
            "x": {"field": "group", "type": "nominal", "sort": ["Automated","Manual","Manual w/o EBV-LCL"], "scale": {"domain": ["Automated","Manual","Manual w/o EBV-LCL"], "paddingInner": 0, "paddingOuter": 0.05},
                  "axis": {"orient": "bottom", "labels": false, "title": null, "tickSize": 15, "tickWidth": 4, "domainWidth": 4}},
            "y": {"field": "mean", "type": "quantitative", "scale": {"domain": [0, 12], "nice": false},
                  "axis": {"values": [0,4,8,12], "title": "% NK cells", "titleFontSize": 35, "titlePadding": 4, "labelFontSize": 34, "labelPadding": 7, "tickSize": 13, "tickWidth": 4, "domainWidth": 4}}
          }
        },
        {
          "data": {"name": "barsB"}, "transform": [{"filter": "datum.panel === 'IFNγ' && datum.cond === 'NK + K562'"}],
          "mark": {"type": "bar", "width": 26, "xOffset": 18, "fill": "#ebebeb", "stroke": "black", "strokeWidth": 2.5},
          "encoding": {
            "x": {"field": "group", "type": "nominal", "sort": ["Automated","Manual","Manual w/o EBV-LCL"],
                  "axis": {"orient": "top", "labels": false, "ticks": false, "domain": false, "title": "IFNγ", "titleFontSize": 34, "titleFontWeight": "bold", "titleBaseline": "alphabetic", "titleX": 156, "titleY": -92}},
            "y": {"field": "mean", "type": "quantitative"}
          }
        },
        {
          "data": {"name": "pointsB"}, "transform": [{"filter": "datum.panel === 'IFNγ'"}, {"pivot": "cond", "value": "value", "groupby": ["panel","group","donor"]}],
          "mark": {"type": "rule", "xOffset": -21, "x2Offset": 18, "color": "black", "strokeWidth": 2},
          "encoding": {
            "x": {"field": "group", "type": "nominal", "sort": ["Automated","Manual","Manual w/o EBV-LCL"], "axis": null},
            "x2": {"field": "group"},
            "y": {"field": "NK", "type": "quantitative"},
            "y2": {"field": "NK + K562"}
          }
        },
        {
          "data": {"name": "pointsB"}, "transform": [{"filter": "datum.panel === 'IFNγ' && datum.cond === 'NK'"}],
          "mark": {"type": "point", "filled": true, "opacity": 1, "color": "black", "size": 100, "xOffset": -21},
          "encoding": {
            "x": {"field": "group", "type": "nominal", "sort": ["Automated","Manual","Manual w/o EBV-LCL"], "axis": null},
            "y": {"field": "value", "type": "quantitative"},
            "shape": {"field": "cond", "type": "nominal", "scale": {"domain": ["NK","NK + K562"], "range": ["circle","triangle-up"]}, "legend": null}
          }
        },
        {
          "data": {"name": "pointsB"}, "transform": [{"filter": "datum.panel === 'IFNγ' && datum.cond === 'NK + K562'"}],
          "mark": {"type": "point", "filled": true, "opacity": 1, "color": "black", "size": 120, "xOffset": 18},
          "encoding": {
            "x": {"field": "group", "type": "nominal", "sort": ["Automated","Manual","Manual w/o EBV-LCL"], "axis": null},
            "y": {"field": "value", "type": "quantitative"},
            "shape": {"field": "cond", "type": "nominal", "scale": {"domain": ["NK","NK + K562"], "range": ["circle","triangle-up"]}, "legend": null}
          }
        },
        {
          "data": {"name": "bracketsB"}, "transform": [{"filter": "datum.panel === 'IFNγ' && datum.kind === 'lower'"}],
          "mark": {"type": "tick", "orient": "horizontal", "size": 96, "thickness": 2.5, "color": "black", "opacity": 1, "xOffset": 64},
          "encoding": {"x": {"field": "from", "type": "nominal", "sort": ["Automated","Manual","Manual w/o EBV-LCL"], "axis": null}, "y": {"field": "level", "type": "quantitative"}}
        },
        {
          "data": {"name": "bracketsB"}, "transform": [{"filter": "datum.panel === 'IFNγ' && datum.kind === 'upper'"}],
          "mark": {"type": "tick", "orient": "horizontal", "size": 196, "thickness": 2.5, "color": "black", "opacity": 1, "xOffset": 114},
          "encoding": {"x": {"field": "from", "type": "nominal", "sort": ["Automated","Manual","Manual w/o EBV-LCL"], "axis": null}, "y": {"field": "level", "type": "quantitative"}}
        },
        {
          "data": {"name": "bracketsB"}, "transform": [{"filter": "datum.panel === 'IFNγ'"}],
          "mark": {"type": "tick", "orient": "vertical", "size": 14, "thickness": 2.5, "color": "black", "opacity": 1, "xOffset": 16},
          "encoding": {"x": {"field": "from", "type": "nominal", "sort": ["Automated","Manual","Manual w/o EBV-LCL"], "axis": null}, "y": {"field": "level", "type": "quantitative"}}
        },
        {
          "data": {"name": "bracketsB"}, "transform": [{"filter": "datum.panel === 'IFNγ'"}],
          "mark": {"type": "tick", "orient": "vertical", "size": 14, "thickness": 2.5, "color": "black", "opacity": 1, "xOffset": 11},
          "encoding": {"x": {"field": "to", "type": "nominal", "sort": ["Automated","Manual","Manual w/o EBV-LCL"], "axis": null}, "y": {"field": "level", "type": "quantitative"}}
        },
        {
          "data": {"name": "bracketsB"}, "transform": [{"filter": "datum.panel === 'IFNγ' && datum.kind === 'lower'"}],
          "mark": {"type": "text", "fontSize": 34, "dx": 64, "dy": -5, "baseline": "alphabetic", "align": "center"},
          "encoding": {"x": {"field": "from", "type": "nominal", "sort": ["Automated","Manual","Manual w/o EBV-LCL"], "axis": null}, "y": {"field": "level", "type": "quantitative"}, "text": {"field": "label"}}
        },
        {
          "data": {"name": "bracketsB"}, "transform": [{"filter": "datum.panel === 'IFNγ' && datum.kind === 'upper'"}],
          "mark": {"type": "text", "fontSize": 34, "dx": 114, "dy": -5, "baseline": "alphabetic", "align": "center"},
          "encoding": {"x": {"field": "from", "type": "nominal", "sort": ["Automated","Manual","Manual w/o EBV-LCL"], "axis": null}, "y": {"field": "level", "type": "quantitative"}, "text": {"field": "label"}}
        }
      ]
    },
    {
      "width": 312, "height": 201,
      "resolve": {"axis": {"x": "independent"}},
      "layer": [
        {
          "data": {"name": "barsB"}, "transform": [{"filter": "datum.panel === 'TNFα' && datum.cond === 'NK'"}],
          "mark": {"type": "bar", "width": 26, "xOffset": -21, "fill": "white", "stroke": "black", "strokeWidth": 2.5},
          "encoding": {
            "x": {"field": "group", "type": "nominal", "sort": ["Automated","Manual","Manual w/o EBV-LCL"], "scale": {"domain": ["Automated","Manual","Manual w/o EBV-LCL"], "paddingInner": 0, "paddingOuter": 0.05},
                  "axis": {"orient": "bottom", "labelAngle": -45, "labelFontSize": 35, "labelPadding": 3, "labelLimit": 600, "title": null, "tickSize": 15, "tickWidth": 4, "domainWidth": 4}},
            "y": {"field": "mean", "type": "quantitative", "scale": {"domain": [0, 12], "nice": false},
                  "axis": {"values": [0,4,8,12], "title": "% NK cells", "titleFontSize": 35, "titlePadding": 4, "labelFontSize": 34, "labelPadding": 7, "tickSize": 13, "tickWidth": 4, "domainWidth": 4}}
          }
        },
        {
          "data": {"name": "barsB"}, "transform": [{"filter": "datum.panel === 'TNFα' && datum.cond === 'NK + K562'"}],
          "mark": {"type": "bar", "width": 26, "xOffset": 18, "fill": "#ebebeb", "stroke": "black", "strokeWidth": 2.5},
          "encoding": {
            "x": {"field": "group", "type": "nominal", "sort": ["Automated","Manual","Manual w/o EBV-LCL"],
                  "axis": {"orient": "top", "labels": false, "ticks": false, "domain": false, "title": "TNFα", "titleFontSize": 34, "titleFontWeight": "bold", "titleBaseline": "alphabetic", "titleX": 156, "titleY": -74}},
            "y": {"field": "mean", "type": "quantitative"}
          }
        },
        {
          "data": {"name": "pointsB"}, "transform": [{"filter": "datum.panel === 'TNFα'"}, {"pivot": "cond", "value": "value", "groupby": ["panel","group","donor"]}],
          "mark": {"type": "rule", "xOffset": -21, "x2Offset": 18, "color": "black", "strokeWidth": 2},
          "encoding": {
            "x": {"field": "group", "type": "nominal", "sort": ["Automated","Manual","Manual w/o EBV-LCL"], "axis": null},
            "x2": {"field": "group"},
            "y": {"field": "NK", "type": "quantitative"},
            "y2": {"field": "NK + K562"}
          }
        },
        {
          "data": {"name": "pointsB"}, "transform": [{"filter": "datum.panel === 'TNFα' && datum.cond === 'NK'"}],
          "mark": {"type": "point", "filled": true, "opacity": 1, "color": "black", "size": 100, "xOffset": -21},
          "encoding": {
            "x": {"field": "group", "type": "nominal", "sort": ["Automated","Manual","Manual w/o EBV-LCL"], "axis": null},
            "y": {"field": "value", "type": "quantitative"},
            "shape": {"field": "cond", "type": "nominal", "scale": {"domain": ["NK","NK + K562"], "range": ["circle","triangle-up"]}, "legend": null}
          }
        },
        {
          "data": {"name": "pointsB"}, "transform": [{"filter": "datum.panel === 'TNFα' && datum.cond === 'NK + K562'"}],
          "mark": {"type": "point", "filled": true, "opacity": 1, "color": "black", "size": 120, "xOffset": 18},
          "encoding": {
            "x": {"field": "group", "type": "nominal", "sort": ["Automated","Manual","Manual w/o EBV-LCL"], "axis": null},
            "y": {"field": "value", "type": "quantitative"},
            "shape": {"field": "cond", "type": "nominal", "scale": {"domain": ["NK","NK + K562"], "range": ["circle","triangle-up"]}, "legend": null}
          }
        },
        {
          "data": {"name": "bracketsB"}, "transform": [{"filter": "datum.panel === 'TNFα' && datum.kind === 'lower'"}],
          "mark": {"type": "tick", "orient": "horizontal", "size": 96, "thickness": 2.5, "color": "black", "opacity": 1, "xOffset": 64},
          "encoding": {"x": {"field": "from", "type": "nominal", "sort": ["Automated","Manual","Manual w/o EBV-LCL"], "axis": null}, "y": {"field": "level", "type": "quantitative"}}
        },
        {
          "data": {"name": "bracketsB"}, "transform": [{"filter": "datum.panel === 'TNFα' && datum.kind === 'upper'"}],
          "mark": {"type": "tick", "orient": "horizontal", "size": 196, "thickness": 2.5, "color": "black", "opacity": 1, "xOffset": 114},
          "encoding": {"x": {"field": "from", "type": "nominal", "sort": ["Automated","Manual","Manual w/o EBV-LCL"], "axis": null}, "y": {"field": "level", "type": "quantitative"}}
        },
        {
          "data": {"name": "bracketsB"}, "transform": [{"filter": "datum.panel === 'TNFα'"}],
          "mark": {"type": "tick", "orient": "vertical", "size": 14, "thickness": 2.5, "color": "black", "opacity": 1, "xOffset": 16},
          "encoding": {"x": {"field": "from", "type": "nominal", "sort": ["Automated","Manual","Manual w/o EBV-LCL"], "axis": null}, "y": {"field": "level", "type": "quantitative"}}
        },
        {
          "data": {"name": "bracketsB"}, "transform": [{"filter": "datum.panel === 'TNFα'"}],
          "mark": {"type": "tick", "orient": "vertical", "size": 14, "thickness": 2.5, "color": "black", "opacity": 1, "xOffset": 11},
          "encoding": {"x": {"field": "to", "type": "nominal", "sort": ["Automated","Manual","Manual w/o EBV-LCL"], "axis": null}, "y": {"field": "level", "type": "quantitative"}}
        },
        {
          "data": {"name": "bracketsB"}, "transform": [{"filter": "datum.panel === 'TNFα' && datum.kind === 'lower'"}],
          "mark": {"type": "text", "fontSize": 34, "dx": 64, "dy": -5, "baseline": "alphabetic", "align": "center"},
          "encoding": {"x": {"field": "from", "type": "nominal", "sort": ["Automated","Manual","Manual w/o EBV-LCL"], "axis": null}, "y": {"field": "level", "type": "quantitative"}, "text": {"field": "label"}}
        },
        {
          "data": {"name": "bracketsB"}, "transform": [{"filter": "datum.panel === 'TNFα' && datum.kind === 'upper'"}],
          "mark": {"type": "text", "fontSize": 34, "dx": 114, "dy": -5, "baseline": "alphabetic", "align": "center"},
          "encoding": {"x": {"field": "from", "type": "nominal", "sort": ["Automated","Manual","Manual w/o EBV-LCL"], "axis": null}, "y": {"field": "level", "type": "quantitative"}, "text": {"field": "label"}}
        }
      ]
    }
  ]
}
]
}
